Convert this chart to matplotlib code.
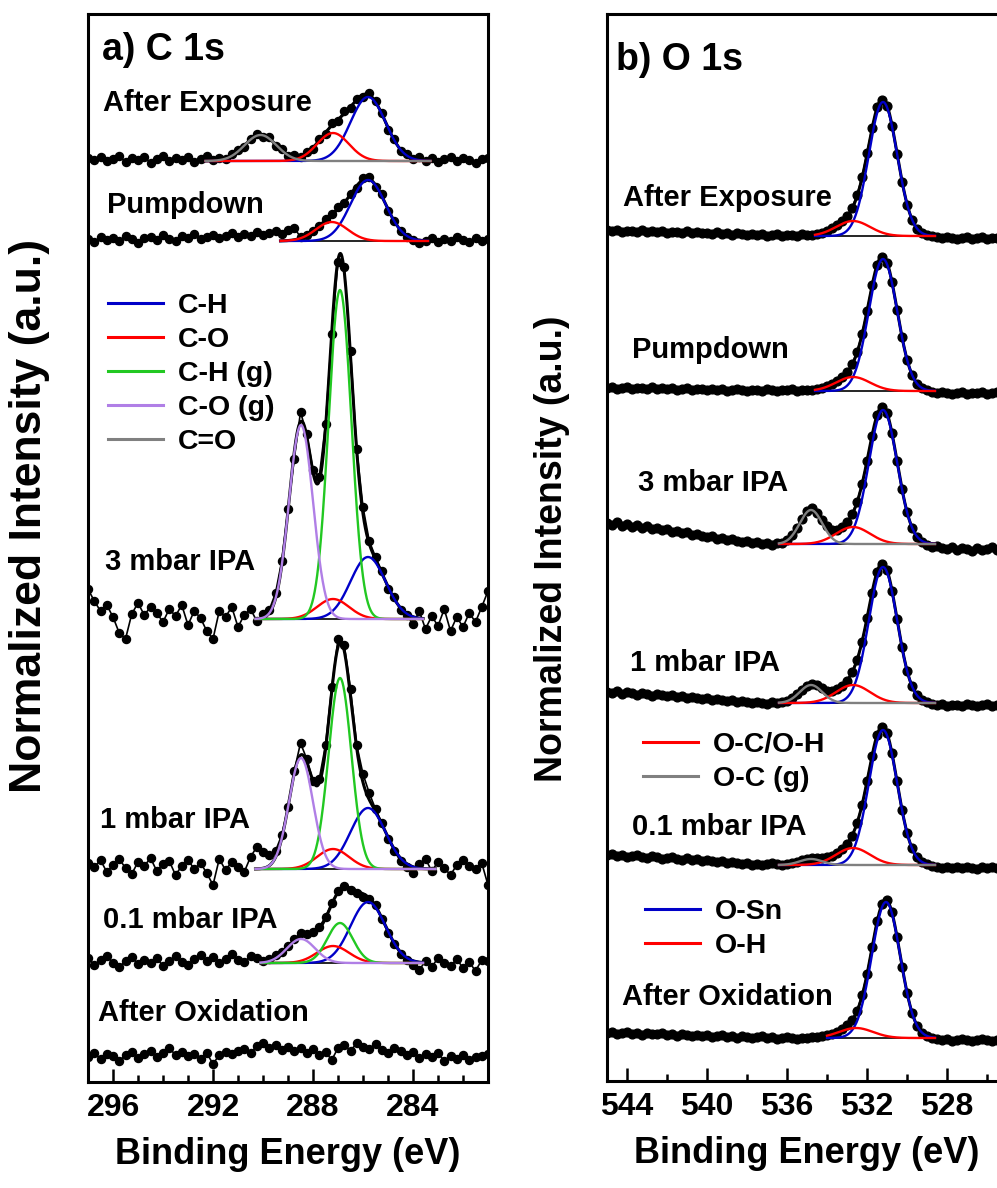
import numpy as np
import matplotlib
matplotlib.use("Agg")
import matplotlib.pyplot as plt
from matplotlib.lines import Line2D
from matplotlib.ticker import MultipleLocator

plt.rcParams["font.family"] = ["Liberation Sans", "DejaVu Sans"]
plt.rcParams["font.weight"] = "bold"
plt.rcParams["axes.labelweight"] = "bold"

# ---------------- C 1s ----------------
c1s_energy = np.arange(297.0, 280.99, -0.25)  # 65 points, 297 -> 281 eV
c1s_labels = ["After Exposure", "Pumpdown", "3 mbar IPA",
              "1 mbar IPA", "0.1 mbar IPA", "After Oxidation"]
c1s_offsets = [921, 841, 463, 213, 119, 25]

c1s_after_exposure = [
    3, 1, 4, 0, 2, 5, -1, 3, 1, 4,
    -2, 2, 5, 0, 3, 1, 4, -1, 2, 5,
    1, 3, 2, 7, 11, 14, 22, 27, 24, 24,
    15, 12, 5, 6, 4, 9, 12, 22, 27, 38,
    40, 50, 53, 62, 64, 68, 60, 48, 31, 22,
    10, 7, 2, 4, 0, 3, -1, 2, 4, 0,
    3, 1, -2, 2, 3,
]
c1s_pumpdown = [
    2, -1, 4, 1, 3, 0, 5, 2, -2, 3,
    4, 1, 6, 2, 0, 5, 3, 7, 2, 4,
    6, 3, 5, 8, 4, 7, 5, 9, 6, 8,
    10, 7, 11, 13, 4, 6, 10, 15, 22, 27,
    34, 38, 47, 53, 63, 64, 54, 47, 30, 20,
    10, 4, 1, -2, 0, 3, -1, 2, 0, 4,
    1, -1, 3, 0, 2,
]
c1s_3mbar = [
    30, 18, 8, 14, 2, -14, -20, 5, 16, 4,
    12, 6, -3, 10, 3, 14, -6, 8, 1, -12,
    -20, 8, 2, 12, -8, 4, 10, -2, 5, 9,
    26, 58, 110, 160, 207, 185, 149, 142, 195, 285,
    357, 352, 268, 170, 112, 78, 62, 48, 30, 22,
    9, 4, -5, 8, -10, 3, -7, 10, -12, 2,
    -8, 6, -3, 12, 28,
]
c1s_1mbar = [
    6, 2, 9, -3, 4, 10, 1, -5, 7, 3,
    11, -2, 5, 8, -6, 3, 9, 0, 6, -4,
    -16, 10, -1, 7, 2, -3, 12, 22, 17, 14,
    18, 34, 62, 98, 126, 110, 88, 90, 124, 182,
    230, 224, 180, 124, 95, 76, 60, 46, 30, 18,
    8, 2, -4, 5, 10, -2, 7, 1, -6, 4,
    9, 3, 0, 6, -16,
]
c1s_01mbar = [
    5, -2, 3, 7, 0, -4, 2, 6, -1, 3,
    0, 5, -3, 2, 7, 1, -2, 4, 8, 2,
    6, 0, 4, 9, 3, 1, 7, 5, 2, 4,
    8, 11, 17, 24, 30, 29, 31, 36, 46, 60,
    72, 77, 73, 70, 66, 64, 58, 44, 30, 19,
    9, 3, -2, -7, 2, -4, 5, 0, -3, 4,
    -5, 1, -8, 3, 2,
]
c1s_after_oxidation = [
    0, 4, -2, 3, 1, -4, 2, 5, -1, 3,
    6, 0, 4, 9, 2, 5, 1, 3, -2, 4,
    -7, 2, 5, 3, 6, 8, 4, 11, 14, 9,
    12, 7, 10, 6, 9, 4, 8, 2, 5, -3,
    9, 12, 6, 14, 10, 8, 13, 7, 4, 9,
    6, 2, 5, -1, 3, 0, 4, -4, 1, -2,
    2, -3, 0, 1, 3,
]
c1s_spectra = [c1s_after_exposure, c1s_pumpdown, c1s_3mbar,
               c1s_1mbar, c1s_01mbar, c1s_after_oxidation]

# fitted peaks: (component, centre eV, height, FWHM eV)
c1s_fits = [
    [("C-H", 285.8, 64, 1.65), ("C-O", 287.2, 28, 1.5), ("C=O", 290.1, 26, 1.5)],
    [("C-H", 285.8, 61, 1.65), ("C-O", 287.25, 19, 1.5)],
    [("C-H", 285.8, 62, 1.65), ("C-O", 287.2, 20, 1.5),
     ("C-H (g)", 286.92, 329, 1.07), ("C-O (g)", 288.48, 194, 1.13)],
    [("C-H", 285.8, 61, 1.65), ("C-O", 287.2, 20, 1.5),
     ("C-H (g)", 286.92, 191, 1.07), ("C-O (g)", 288.48, 111, 1.13)],
    [("C-H", 285.8, 61, 1.65), ("C-O", 287.2, 17, 1.5),
     ("C-H (g)", 286.92, 40, 1.2), ("C-O (g)", 288.48, 24, 1.33)],
    [],
]
c1s_fit_ranges = [(292.3, 283.3), (289.3, 283.4), (290.3, 283.6),
                  (290.3, 283.1), (290.1, 283.6), None]

# ---------------- O 1s ----------------
o1s_energy = np.arange(545.0, 524.99, -0.25)  # 81 points, 545 -> 525 eV
o1s_labels = c1s_labels
o1s_offsets = [845, 690, 537, 378, 216, 43]

o1s_after_exposure = [
    6, 5, 6, 4, 5, 5, 4, 6, 4, 5,
    4, 5, 3, 4, 4, 3, 5, 3, 4, 3,
    3, 2, 4, 2, 3, 1, 3, 2, 1, 2,
    1, 2, 0, 1, 2, 0, 1, 1, 0, 2,
    1, 1, 2, 3, 5, 8, 11, 15, 20, 28,
    41, 59, 83, 108, 129, 136, 130, 110, 82, 54,
    31, 16, 7, 3, 1, 0, -1, -2, -1, -2,
    -3, -2, -1, -3, -2, -1, -3, -2, -2, -1,
    -2,
]
o1s_pumpdown = [
    3, 4, 2, 3, 4, 2, 3, 3, 2, 4,
    2, 3, 2, 3, 1, 2, 3, 1, 2, 2,
    1, 2, 1, 2, 0, 1, 2, 1, 0, 1,
    1, 0, 2, 1, 0, 1, 1, 2, 0, 1,
    1, 1, 2, 3, 5, 7, 10, 14, 19, 27,
    39, 57, 80, 106, 126, 134, 128, 109, 81, 54,
    31, 16, 7, 3, 1, -1, -2, -1, -2, -3,
    -2, -1, -3, -2, -2, -1, -3, -2, -1, -2,
    -2,
]
o1s_3mbar = [
    21, 19, 22, 18, 20, 17, 19, 16, 18, 15,
    16, 14, 15, 12, 13, 11, 12, 9, 10, 8,
    7, 8, 5, 6, 4, 5, 3, 2, 3, 1,
    2, 0, 1, -1, 1, 1, 4, 9, 16, 25,
    33, 36, 31, 24, 18, 14, 14, 17, 22, 30,
    42, 60, 83, 108, 129, 137, 131, 111, 83, 55,
    32, 16, 7, 2, -1, -3, -2, -4, -5, -3,
    -6, -4, -5, -7, -4, -6, -5, -3, -6, -5,
    -4,
]
o1s_1mbar = [
    11, 10, 12, 9, 11, 10, 8, 10, 9, 7,
    9, 8, 7, 8, 6, 7, 5, 6, 5, 4,
    5, 3, 4, 3, 2, 3, 1, 2, 1, 0,
    1, 0, -1, 1, 0, 1, 2, 5, 9, 13,
    17, 19, 18, 15, 12, 12, 14, 17, 22, 31,
    43, 61, 85, 110, 131, 139, 133, 112, 84, 56,
    32, 17, 8, 3, 1, -1, -2, -1, -3, -2,
    -2, -3, -1, -2, -3, -2, -1, -3, -2, -2,
    -3,
]
o1s_01mbar = [
    10, 11, 9, 10, 8, 9, 10, 8, 7, 9,
    8, 6, 7, 8, 6, 5, 7, 5, 6, 4,
    5, 4, 3, 4, 2, 3, 2, 1, 2, 0,
    1, 0, 1, 2, 1, 0, 1, 2, 3, 5,
    6, 7, 7, 7, 8, 9, 12, 16, 21, 29,
    42, 60, 84, 109, 130, 138, 132, 112, 84, 55,
    32, 17, 8, 3, 1, -1, -2, -3, -2, -3,
    -2, -3, -2, -3, -4, -2, -3, -2, -3, -2,
    -3,
]
o1s_after_oxidation = [
    5, 6, 4, 5, 6, 4, 5, 3, 5, 4,
    4, 5, 3, 4, 2, 4, 3, 2, 3, 2,
    3, 1, 2, 3, 1, 2, 0, 2, 1, 0,
    1, 2, 0, 1, -1, 0, 1, 0, -1, 0,
    0, 1, 1, 2, 3, 4, 6, 9, 13, 18,
    27, 43, 64, 91, 117, 134, 138, 126, 101, 71,
    45, 25, 12, 5, 2, 0, -1, -2, -1, -3,
    -2, -1, -2, -3, -2, -1, -2, -3, -2, -2,
    -3,
]
o1s_spectra = [o1s_after_exposure, o1s_pumpdown, o1s_3mbar,
               o1s_1mbar, o1s_01mbar, o1s_after_oxidation]

o1s_fits = [
    [("O-Sn", 531.2, 134, 1.67), ("O-C/O-H", 532.7, 15, 2.0)],
    [("O-Sn", 531.2, 132, 1.67), ("O-C/O-H", 532.7, 14, 2.0)],
    [("O-Sn", 531.2, 134, 1.67), ("O-C/O-H", 532.7, 17, 2.0), ("O-C (g)", 534.8, 34, 1.33)],
    [("O-Sn", 531.2, 136, 1.67), ("O-C/O-H", 532.7, 18, 2.0), ("O-C (g)", 534.8, 18, 1.33)],
    [("O-Sn", 531.2, 135, 1.67), ("O-C/O-H", 532.7, 17, 2.0), ("O-C (g)", 534.8, 6, 1.33)],
    [("O-Sn", 531.05, 136, 1.67), ("O-H", 532.55, 10, 2.0)],
]
o1s_fit_ranges = [(534.6, 528.6), (534.6, 528.6), (536.4, 528.6),
                  (536.4, 528.6), (536.4, 528.6), (534.0, 528.6)]

colors = {
    "C-H": "#0000C8", "C-O": "#FF0000", "C-H (g)": "#22C822",
    "C-O (g)": "#B07FE6", "C=O": "#808080",
    "O-Sn": "#0000C8", "O-C/O-H": "#FF0000", "O-C (g)": "#808080", "O-H": "#FF0000",
}


def gauss(x, centre, height, fwhm):
    return height * np.exp(-4 * np.log(2) * (x - centre) ** 2 / fwhm ** 2)


def draw_spectrum(ax, energy, values, offset, fit, fit_range, ms=5.8):
    ax.plot(energy, offset + np.asarray(values, dtype=float), "-o", color="black",
            lw=1.2, ms=ms, zorder=2)
    if not fit:
        return
    x = np.linspace(fit_range[0], fit_range[1], 400)
    total = np.zeros_like(x)
    ax.plot(x, np.full_like(x, offset), color="black", lw=1.2, zorder=3)
    comps = []
    for name, centre, height, fwhm in fit:
        comp = gauss(x, centre, height, fwhm)
        total += comp
        comps.append((name, comp))
    ax.plot(x, offset + total, color="black", lw=2.2, zorder=3)
    for name, comp in comps:
        ax.plot(x, offset + comp, color=colors[name], lw=1.7, zorder=4)


def style_axis(ax, xlim, ylim, majors, minor_step):
    ax.set_xlim(*xlim)
    ax.set_ylim(*ylim)
    ax.set_xticks(majors)
    ax.xaxis.set_minor_locator(MultipleLocator(minor_step))
    ax.tick_params(axis="x", which="both", direction="in", top=False,
                   width=1.8, labelsize=23, pad=8)
    ax.tick_params(axis="x", which="major", length=9.5)
    ax.tick_params(axis="x", which="minor", length=5)
    ax.tick_params(axis="y", which="both", left=False, labelleft=False)
    for sp in ax.spines.values():
        sp.set_linewidth(2.2)
    ax.set_xlabel("Binding Energy (eV)", fontsize=26, labelpad=10)


fig = plt.figure(figsize=(9.97, 11.88), dpi=100)
ax_c = fig.add_axes([88 / 997, 106 / 1188, 400 / 997, 1068 / 1188])
ax_o = fig.add_axes([607 / 997, 107 / 1188, 400 / 997, 1067 / 1188])

for vals, off, fit, rng in zip(c1s_spectra, c1s_offsets, c1s_fits, c1s_fit_ranges):
    draw_spectrum(ax_c, c1s_energy, vals, off, fit, rng)
for vals, off, fit, rng in zip(o1s_spectra, o1s_offsets, o1s_fits, o1s_fit_ranges):
    draw_spectrum(ax_o, o1s_energy, vals, off, fit, rng, ms=6.3)

style_axis(ax_c, (297, 281), (0, 1068), [296, 292, 288, 284], 1)
style_axis(ax_o, (545, 525), (0, 1067), [544, 540, 536, 532, 528], 2)

# spectrum names and panel titles
c1s_label_pos = [(0.0375, 0.917), (0.0475, 0.821), (0.0425, 0.487),
                 (0.03, 0.245), (0.0375, 0.152), (0.025, 0.065)]
o1s_label_pos = [(0.04, 0.828), (0.0625, 0.685), (0.0775, 0.560),
                 (0.0575, 0.392), (0.0625, 0.238), (0.0375, 0.079)]
for name, (x, y) in zip(c1s_labels, c1s_label_pos):
    ax_c.text(x, y, name, transform=ax_c.transAxes, fontsize=21,
              ha="left", va="center")
for name, (x, y) in zip(o1s_labels, o1s_label_pos):
    ax_o.text(x, y, name, transform=ax_o.transAxes, fontsize=21,
              ha="left", va="center")
ax_c.text(0.035, 0.966, "a) C 1s", transform=ax_c.transAxes, fontsize=27,
          ha="left", va="center")
ax_o.text(0.0225, 0.957, "b) O 1s", transform=ax_o.transAxes, fontsize=27,
          ha="left", va="center")

fig.text(30 / 997, 1 - 516 / 1188, "Normalized Intensity (a.u.)", rotation=90,
         fontsize=32, ha="center", va="center")
fig.text(552 / 997, 1 - 549 / 1188, "Normalized Intensity (a.u.)", rotation=90,
         fontsize=27, ha="center", va="center")

# legends
leg_kw = dict(frameon=False, fontsize=20.5, handlelength=1.93, handletextpad=0.53,
              labelspacing=0.28, borderpad=0, borderaxespad=0, loc="upper left")


def handles(names):
    return [Line2D([], [], color=colors[n], lw=2.2) for n in names]


c_names = ["C-H", "C-O", "C-H (g)", "C-O (g)", "C=O"]
ax_c.legend(handles(c_names), c_names, bbox_to_anchor=(0.05, 0.739), **leg_kw)

o_names_gas = ["O-C/O-H", "O-C (g)"]
o_names_ox = ["O-Sn", "O-H"]
leg1 = ax_o.legend(handles(o_names_gas), o_names_gas, bbox_to_anchor=(0.09, 0.327), **leg_kw)
ax_o.add_artist(leg1)
ax_o.legend(handles(o_names_ox), o_names_ox, bbox_to_anchor=(0.095, 0.1705), **leg_kw)

fig.savefig("out.png", dpi=100)
